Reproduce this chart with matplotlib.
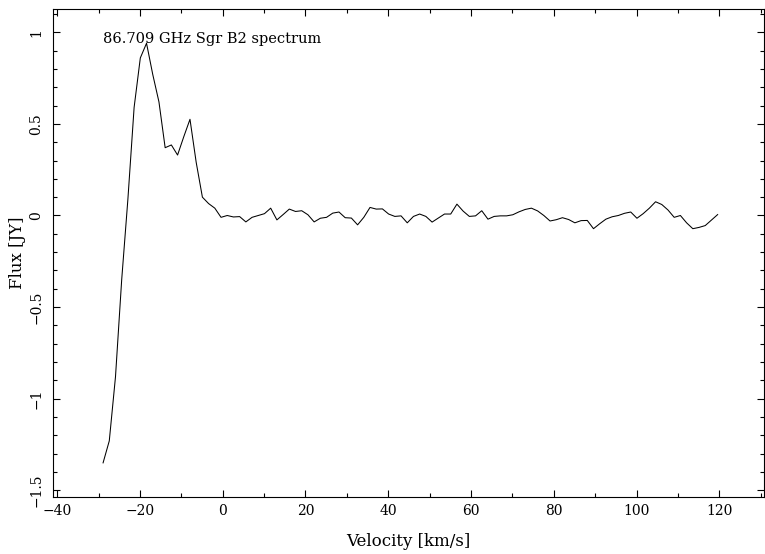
import matplotlib
matplotlib.use('Agg')
import matplotlib.pyplot as plt
from matplotlib.ticker import MultipleLocator

plt.rcParams['font.family'] = 'DejaVu Serif'
plt.rcParams['font.size'] = 10

# velocity channels (km/s)
velocity = [-28.9, -27.4, -25.9, -24.4, -22.9, -21.4, -19.9, -18.4, -16.9, -15.4,
            -13.9, -12.4, -10.9, -9.4, -7.9, -6.4, -4.9, -3.4, -1.9, -0.4,
            1.1, 2.6, 4.1, 5.6, 7.1, 8.6, 10.1, 11.6, 13.1, 14.6,
            16.1, 17.6, 19.1, 20.6, 22.1, 23.6, 25.1, 26.6, 28.1, 29.6,
            31.1, 32.6, 34.1, 35.6, 37.1, 38.6, 40.1, 41.6, 43.1, 44.6,
            46.1, 47.6, 49.1, 50.6, 52.1, 53.6, 55.1, 56.6, 58.1, 59.6,
            61.1, 62.6, 64.1, 65.6, 67.1, 68.6, 70.1, 71.6, 73.1, 74.6,
            76.1, 77.6, 79.1, 80.6, 82.1, 83.6, 85.1, 86.6, 88.1, 89.6,
            91.1, 92.6, 94.1, 95.6, 97.1, 98.6, 100.1, 101.6, 103.1, 104.6,
            106.1, 107.6, 109.1, 110.6, 112.1, 113.6, 115.1, 116.6, 118.1, 119.6]

# flux (Jy)
flux = [-1.35, -1.23, -0.88, -0.35, 0.09, 0.59, 0.86, 0.94, 0.77, 0.62,
        0.37, 0.385, 0.33, 0.43, 0.525, 0.29, 0.10, 0.065, 0.04, -0.01,
        0.0, -0.008, -0.006, -0.035, -0.01, 0.0, 0.01, 0.04, -0.024, 0.005,
        0.035, 0.022, 0.026, 0.004, -0.035, -0.015, -0.01, 0.013, 0.019, -0.012,
        -0.014, -0.051, -0.01, 0.044, 0.035, 0.036, 0.008, -0.005, -0.002, -0.04,
        -0.005, 0.008, -0.005, -0.036, -0.014, 0.008, 0.008, 0.062, 0.024, -0.005,
        -0.002, 0.026, -0.02, -0.005, -0.002, -0.002, 0.004, 0.02, 0.033, 0.04,
        0.025, 0.0, -0.03, -0.023, -0.012, -0.022, -0.04, -0.028, -0.027, -0.072,
        -0.045, -0.02, -0.007, 0.0, 0.012, 0.019, -0.015, 0.01, 0.04, 0.075,
        0.06, 0.03, -0.01, 0.0, -0.04, -0.072, -0.065, -0.055, -0.025, 0.005]

yticks = [-1.5, -1, -0.5, 0, 0.5, 1]
ylabels = ['\u22121.5', '\u22121', '\u22120.5', '0', '0.5', '1']

fig = plt.figure(figsize=(7.65, 5.54), dpi=100)
ax = fig.add_axes([53 / 765, 1 - 497.3 / 554, (764 - 53) / 765, (497.3 - 9) / 554])

ax.plot(velocity, flux, color='black', lw=0.75)
ax.set_xlim(-41, 130.8)
ax.set_ylim(-1.538, 1.127)

ax.xaxis.set_major_locator(MultipleLocator(20))
ax.xaxis.set_minor_locator(MultipleLocator(10))
ax.set_yticks(yticks)
ax.set_yticklabels(ylabels, rotation=90, va='center')
ax.yaxis.set_minor_locator(MultipleLocator(0.1))

ax.tick_params(which='both', direction='in', top=True, right=True, width=0.8)
ax.tick_params(which='major', length=5)
ax.tick_params(which='minor', length=2.9)
ax.tick_params(axis='x', pad=5)
ax.tick_params(axis='y', pad=7)
for s in ax.spines.values():
    s.set_linewidth(0.8)

ax.text(velocity[0], 0.94, '86.709 GHz Sgr B2 spectrum', va='baseline', ha='left', fontsize=10.5)

ax.set_xlabel('Velocity [km/s]', va='center', fontsize=12)
ax.xaxis.set_label_coords(0.5, (497.3 - 541) / 488.3)
ax.set_ylabel('Flux [JY]', va='center', fontsize=12)
ax.yaxis.set_label_coords((18 - 53) / 711, 0.5)

plt.savefig('out.png', dpi=100)
